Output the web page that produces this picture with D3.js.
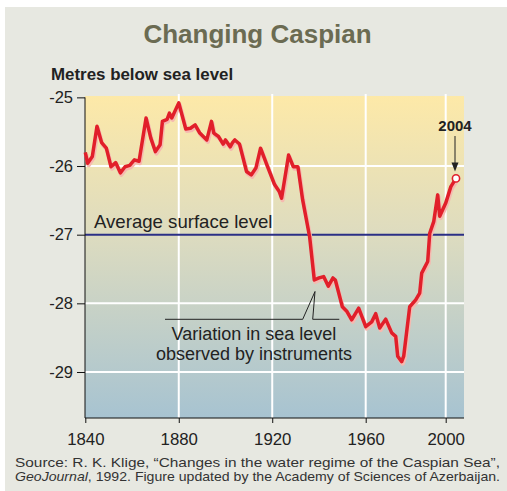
<!DOCTYPE html>
<html>
<head>
<meta charset="utf-8">
<script src="https://cdn.jsdelivr.net/npm/d3@7/dist/d3.min.js"></script>
<style>
  html, body { margin: 0; padding: 0; background: #ffffff; }
  svg { display: block; font-family: "Liberation Sans", Arial, Helvetica, sans-serif; }
</style>
</head>
<body>
<svg id="chart" width="507" height="491"></svg>
<script>
// ---- Data ----
const years = [1840,1841,1843,1845,1847,1849,1851,1853,1855,1857,1859,1861,1863,1866,1868,1870,1872,1873,1875,1876,1877,1880,
  1883,1885,1887,1889,1892,1894,1895,1897,1899,1900,1902,1903,1904,1906,1909,1911,1913,1915,1918,1921,1923,1924,1927,1929,1931,
  1933,1936,1938,1940,1942,1944,1946,1947,1950,1952,1954,1957,1960,1963,1965,1967,1970,1973,1975,1976,1978,1979,1982,1985,1987,
  1988,1991,1992,1994,1996,1997,2000,2002,2004];
const levels = [-25.80,-25.96,-25.86,-25.42,-25.66,-25.74,-26.01,-25.95,-26.10,-26.01,-25.99,-25.91,-25.93,-25.30,-25.59,-25.79,-25.69,-25.35,-25.32,-25.23,-25.30,-25.08,
  -25.46,-25.45,-25.40,-25.52,-25.62,-25.35,-25.52,-25.57,-25.68,-25.62,-25.72,-25.66,-25.62,-25.68,-26.08,-26.13,-26.03,-25.74,-26.01,-26.27,-26.37,-26.47,-25.84,-26.01,-26.01,
  -26.49,-27.03,-27.66,-27.63,-27.61,-27.75,-27.63,-27.66,-28.05,-28.12,-28.24,-28.07,-28.34,-28.27,-28.15,-28.36,-28.23,-28.43,-28.48,-28.77,-28.85,-28.77,-28.05,-27.95,-27.85,
  -27.56,-27.39,-26.98,-26.81,-26.42,-26.73,-26.54,-26.30,-26.18];
const xTicks = [1840, 1880, 1920, 1960, 2000];
const yTicks = [-25, -26, -27, -28, -29];
const averageLevel = -27;
const lastYear = 2004;
const title = "Changing Caspian";
const yTitle = "Metres below sea level";
const avgLabel = "Average surface level";
const noteLines = ["Variation in sea level", "observed by instruments"];
const sourceLine1 = "Source:  R. K. Klige, \u201cChanges in the water regime of the Caspian Sea\u201d,";
const sourceLine2a = "GeoJournal";
const sourceLine2b = ", 1992. Figure updated by the Academy of Sciences of Azerbaijan.";

// ---- Layout ----
const svg = d3.select("#chart");
const L = 85, R = 464, T = 96, B = 418;

// The original's time axis is compressed after 1960 (2000 gridline sits closer)
const x = d3.scaleLinear()
  .domain([1840, 1960, 2000, 2004])
  .range([85.3, 365.7, 445.7, 456]);
const y = d3.scaleLinear().domain([-29.67, -24.98]).range([B, T]);

// panel background
svg.append("rect").attr("x", 5).attr("y", 7).attr("width", 502).attr("height", 484).attr("fill", "#e7e8e1");

// gradient
const defs = svg.append("defs");
const grad = defs.append("linearGradient").attr("id", "bg").attr("x1", 0).attr("y1", 0).attr("x2", 0).attr("y2", 1);
grad.append("stop").attr("offset", "0%").attr("stop-color", "#fde9a8");
grad.append("stop").attr("offset", "42%").attr("stop-color", "#dedcbf");
grad.append("stop").attr("offset", "100%").attr("stop-color", "#a7c3d1");

svg.append("rect").attr("x", L).attr("y", T).attr("width", R - L).attr("height", B - T).attr("fill", "url(#bg)");

// gridlines
const gx = svg.append("g");
gx.selectAll("line.v").data(xTicks.slice(1)).join("line")
  .attr("x1", d => x(d)).attr("x2", d => x(d)).attr("y1", T - 2).attr("y2", B)
  .attr("stroke", "#ffffff").attr("stroke-width", 2);
gx.selectAll("line.h").data(yTicks.filter(d => d !== -25 && d !== averageLevel)).join("line")
  .attr("x1", L).attr("x2", R).attr("y1", d => y(d)).attr("y2", d => y(d))
  .attr("stroke", "#ffffff").attr("stroke-width", 2);

// average line
svg.append("line").attr("x1", L).attr("x2", R).attr("y1", y(averageLevel)).attr("y2", y(averageLevel))
  .attr("stroke", "#2b2f86").attr("stroke-width", 2);
svg.append("text").attr("x", 94).attr("y", y(averageLevel) - 7)
  .attr("font-size", 18.6).attr("fill", "#222").text(avgLabel);

// axes
const yAxis = d3.axisLeft(y).tickValues(yTicks).tickSize(8).tickPadding(4).tickFormat(d3.format("d"));
const gy = svg.append("g").attr("transform", `translate(${L},0)`).call(yAxis);
gy.select(".domain").attr("d", `M0,${y(-25)}V${B}`).attr("stroke", "#111");
gy.selectAll(".tick line").attr("stroke", "#111");
gy.selectAll(".tick text").attr("font-size", 16.5).attr("fill", "#222").attr("font-family", "'Liberation Sans', Arial, sans-serif")
  .text(d => "-" + Math.abs(d));

const xAxis = d3.axisBottom(x).tickValues(xTicks).tickSize(5).tickPadding(10).tickFormat(d3.format("d"));
const gxa = svg.append("g").attr("transform", `translate(0,${B})`).call(xAxis);
gxa.select(".domain").attr("d", `M${L},0H${R}`).attr("stroke", "#111");
gxa.selectAll(".tick line").attr("stroke", "#111");
gxa.selectAll(".tick text").attr("font-size", 16.8).attr("fill", "#222").attr("font-family", "'Liberation Sans', Arial, sans-serif");

// data line
const pts = years.map((yr, i) => [yr, levels[i]]);
const line = d3.line().x(d => x(d[0])).y(d => y(d[1])).curve(d3.curveLinear);
svg.append("path").datum(pts).attr("d", line).attr("fill", "none")
  .attr("stroke", "#f6b9b0").attr("stroke-width", 4).attr("stroke-linejoin", "round")
  .attr("transform", "translate(1,2)");
svg.append("path").datum(pts).attr("d", line).attr("fill", "none")
  .attr("stroke", "#e11f2a").attr("stroke-width", 3.5).attr("stroke-linejoin", "round");

// end point
const lastVal = levels[years.indexOf(lastYear)];
svg.append("circle").attr("cx", x(lastYear)).attr("cy", y(lastVal)).attr("r", 3.6)
  .attr("fill", "#fff").attr("stroke", "#e11f2a").attr("stroke-width", 1.6);

// 2004 label + arrow
const ax = x(lastYear) - 1;
svg.append("text").attr("x", ax).attr("y", 131).attr("text-anchor", "middle")
  .attr("font-size", 15).attr("font-weight", "bold").attr("fill", "#222").text(String(lastYear));
svg.append("line").attr("x1", ax).attr("x2", ax).attr("y1", 136).attr("y2", y(lastVal) - 14)
  .attr("stroke", "#222").attr("stroke-width", 1);
const tipY = y(lastVal) - 7;
svg.append("path").attr("d", `M${ax - 3.5},${tipY - 9}L${ax + 3.5},${tipY - 9}L${ax},${tipY}Z`).attr("fill", "#222");

// annotation callout
const cy = 319.3;
svg.append("path")
  .attr("d", `M165,${cy}H302.7L315,291.5L312.7,${cy}H339.3`)
  .attr("fill", "none").attr("stroke", "#222").attr("stroke-width", 1);
svg.selectAll("text.note").data(noteLines).join("text").attr("class", "note")
  .attr("x", 254).attr("y", (d, i) => 340 + i * 20).attr("text-anchor", "middle")
  .attr("font-size", 18).attr("fill", "#222").text(d => d);

// titles
svg.append("text").attr("x", 257.5).attr("y", 43).attr("text-anchor", "middle")
  .attr("font-size", 26).attr("font-weight", "bold").attr("fill", "#6b6b52").text(title);
svg.append("text").attr("x", 51).attr("y", 80)
  .attr("font-size", 16.9).attr("font-weight", "bold").attr("fill", "#222").text(yTitle);

// source (justified to full width, glyphs slightly widened like the original)
const srcW = 485, fs = 13.3;
svg.append("text").attr("x", 15).attr("y", 466.8).attr("font-size", fs).attr("fill", "#333")
  .attr("textLength", srcW).attr("lengthAdjust", "spacingAndGlyphs").text(sourceLine1);
const s2 = svg.append("text").attr("x", 15).attr("y", 481.3).attr("font-size", fs).attr("fill", "#333")
  .attr("textLength", srcW).attr("lengthAdjust", "spacingAndGlyphs");
s2.append("tspan").attr("font-style", "italic").text(sourceLine2a);
s2.append("tspan").text(sourceLine2b);
</script>
</body>
</html>
